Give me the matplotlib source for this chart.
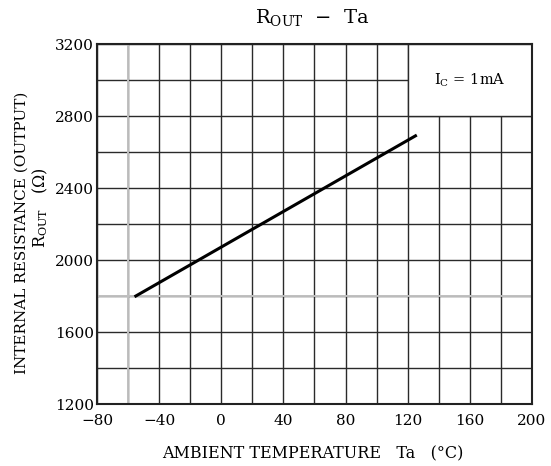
import numpy as np
import matplotlib.pyplot as plt
from matplotlib.patches import Rectangle

# datos
ta = [-55, 125]            # temperatura ambiente (°C)
r_out = [1800, 2690]       # resistencia interna de salida (ohm)

xticks = [-80, -40, 0, 40, 80, 120, 160, 200]
yticks = [1200, 1600, 2000, 2400, 2800, 3200]
nota = "I$_{\\rm C}$ = 1mA"

plt.rcParams['font.family'] = ['DejaVu Serif']
plt.rcParams['mathtext.fontset'] = 'dejavuserif'

fig = plt.figure(figsize=(5.51, 4.66), dpi=100)
ax = fig.add_axes([0.176, 0.133, 0.7895, 0.7725])

ax.set_xlim(-80, 200)
ax.set_ylim(1200, 3200)
ax.set_xticks(xticks)
ax.set_yticks(yticks)
ax.set_xticks(np.arange(-80, 201, 20), minor=True)
ax.set_yticks(np.arange(1200, 3201, 200), minor=True)
ax.tick_params(which='both', length=0, labelsize=11)
ax.tick_params(axis='x', pad=7)
ax.tick_params(axis='y', pad=2)

ax.set_axisbelow(True)
ax.grid(which='both', color='#2a2a2a', linewidth=1.0)
# lineas mas claras del escaneo
ax.axvline(-60, color='#c0c0c0', linewidth=1.4, zorder=0.6)
ax.axhline(1800, color='#c0c0c0', linewidth=1.4, zorder=0.6)

for s in ax.spines.values():
    s.set_linewidth(1.5)
    s.set_color('#222222')

# recuadro con la condicion
ax.add_patch(Rectangle((120, 2800), 80, 400, facecolor='white',
                       edgecolor='#2a2a2a', linewidth=1.0, zorder=1))
ax.text(160, 3000, nota, ha='center', va='center', fontsize=10.5, zorder=3)

ax.plot(ta, r_out, color='black', linewidth=2.2, zorder=2)

fig.text(0.567, 0.962, "R$_{\\rm OUT}$  −  Ta", ha='center', va='center', fontsize=14)
fig.text(0.567, 0.027, "AMBIENT TEMPERATURE   Ta   (°C)", ha='center', va='center',
         fontsize=11.5)
fig.text(0.040, 0.50, "INTERNAL RESISTANCE (OUTPUT)", rotation=90,
         ha='center', va='center', fontsize=11)
fig.text(0.073, 0.555, "R$_{\\rm OUT}$   ($\\Omega$)", rotation=90,
         ha='center', va='center', fontsize=11.5)

fig.savefig('out.png', dpi=100)
